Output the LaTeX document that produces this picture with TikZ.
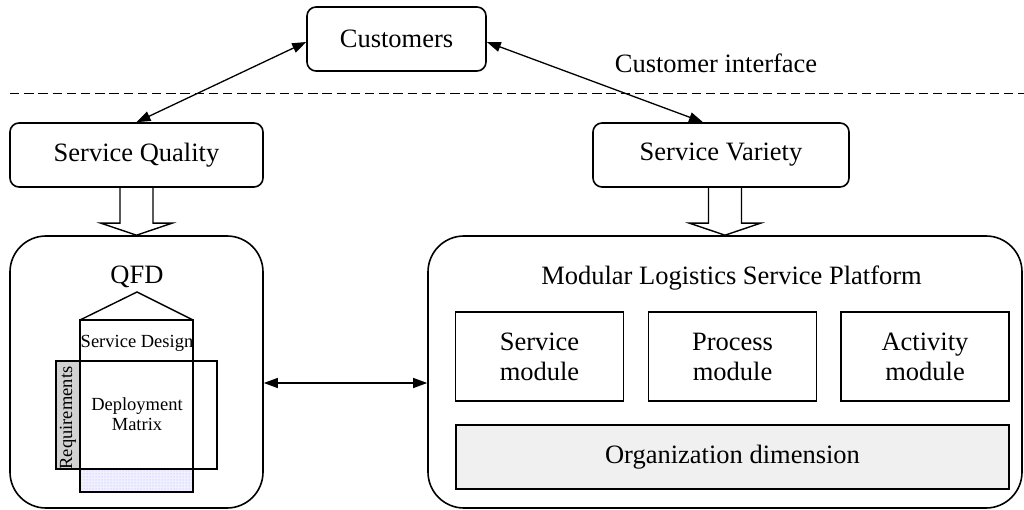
\documentclass[tikz,border=0pt]{standalone}
\usepackage{fontspec}
\setmainfont{Liberation Serif}
\usetikzlibrary{arrows.meta,calc,patterns}

\begin{document}
\begin{tikzpicture}[x=1pt,y=-1pt,
  every node/.style={font=\fontsize{26.5}{30}\selectfont},
  rbox/.style={draw, line width=1.6pt, rounded corners=9pt, inner sep=0pt},
  bigbox/.style={draw, line width=1.6pt, rounded corners=36pt, inner sep=0pt},
  modbox/.style={draw, line width=1.6pt, inner sep=0pt, minimum width=168pt,
    minimum height=89pt, align=center},
  orgbox/.style={draw, line width=1.6pt, inner sep=0pt, fill=gray!12},
  link/.style={line width=1.3pt,
    {Triangle[length=14pt,width=10pt]}-{Triangle[length=14pt,width=10pt]}},
  hollow/.style={draw, line width=1.4pt, line join=miter},
  thinline/.style={line width=1.4pt},
  small/.style={font=\fontsize{18.5}{20}\selectfont}
]
\useasboundingbox (0,0) rectangle (1024,510);

% top level boxes
\node[rbox, minimum width=179pt, minimum height=64pt] (cust) at (396.5,39) {Customers};
\node[rbox, minimum width=253pt, minimum height=64pt] (sq) at (136.5,155) {Service Quality};
\node[rbox, minimum width=256pt, minimum height=64pt] (sv) at (721,155) {Service Variety};
\node[bigbox, minimum width=253pt, minimum height=272pt] (qfd) at (136.5,372) {};
\node[bigbox, minimum width=594pt, minimum height=272pt] (plat) at (725,372) {};

% customer interface separator
\coordinate (sepL) at (10,93.5);
\coordinate (sepR) at (1024,93.5);
\draw[line width=1.3pt, dash pattern=on 9.4pt off 4.8pt] (sepL) -- (sepR);
\node (ci) at (716,63) {Customer interface};

% connectors
\draw[link] ($(cust.west)+(0,3)$) -- (sq.north);
\draw[link] ($(cust.east)+(0,3)$) -- ($(sv.north)+(-18,0)$);
\coordinate (mid) at (0,383);
\draw[link] (qfd.east |- mid) -- (plat.west |- mid);

% hollow block arrows
\draw[hollow] ($(qfd.north)+(-16.5,-49)$) -- ++(0,37) -- ++(-19,0) -- (qfd.north)
  -- ($(qfd.north)+(35.5,-12)$) -- ++(-19,0) -- ++(0,-37);
\draw[hollow] ($(plat.north)+(-16.5,-49)$) -- ++(0,37) -- ++(-19,0) -- (plat.north)
  -- ($(plat.north)+(35.5,-12)$) -- ++(-19,0) -- ++(0,-37);

% QFD house
\node (qfdt) at (137,277) {QFD};
\fill[blue!6] (80,469) rectangle (193,492);
\fill[pattern=dots, pattern color=blue!30] (80,469) rectangle (193,492);
\fill[gray!35] (56,361) rectangle (80,469);
\draw[thinline] (80,320) -- (137,292) -- (193,320);
\draw[thinline] (80,320) rectangle (193,492);
\draw[thinline] (56,361) rectangle (217,469);
\node[small, rotate=90] (req) at (68,418) {Requirements};
\node[small] (sd) at (137,343) {Service Design};
\node[small, align=center] (dm) at (137,414) {Deployment\\Matrix};

% platform
\node (pt) at (731.5,278) {Modular Logistics Service Platform};
\node[modbox] (sm) at (539.5,356.5) {Service\\module};
\node[modbox] (pm) at (732.5,356.5) {Process\\module};
\node[modbox] (am) at (925,356.5) {Activity\\module};
\node[orgbox, minimum width=553pt, minimum height=64pt] (org) at (732.5,457) {Organization dimension};
\end{tikzpicture}
\end{document}
